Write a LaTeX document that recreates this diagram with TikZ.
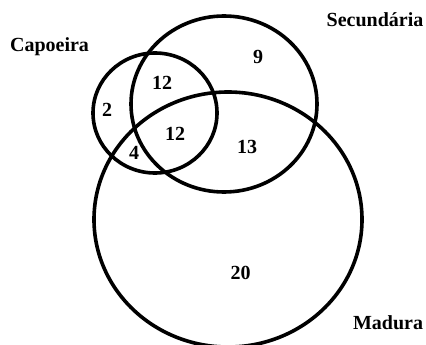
\documentclass[tikz,border=0pt]{standalone}
\usepackage{fontspec}
\setmainfont{Liberation Serif}
\usepackage{amsmath}

\begin{document}
\begin{tikzpicture}[x=1pt, y=-1pt, line width=3.6pt, every node/.style={font=\fontsize{20}{22}\selectfont\bfseries, inner sep=0pt}]
				\useasboundingbox (0,0) rectangle (426,345);

				\draw (155,113) ellipse [x radius=62, y radius=60];
				\draw (224,104) ellipse [x radius=93, y radius=88];
				\draw (228,219.5) ellipse [x radius=134, y radius=127.5];

				\node[anchor=base] (capoeira) at (49.5,52) {Capoeira};
				\node[anchor=base] (secundaria) at (375,27) {Secundária};
				\node[anchor=base] (madura) at (388,329) {Madura};

				\node (soC) at (107,110) {2};
				\node (CeS) at (162,83) {12};
				\node (CSM) at (175,134) {12};
				\node (CeM) at (134,153) {4};
				\node (soS) at (258,57) {9};
				\node (SeM) at (247,147) {13};
				\node (soM) at (240.5,273) {20};

			\end{tikzpicture}
\end{document}
